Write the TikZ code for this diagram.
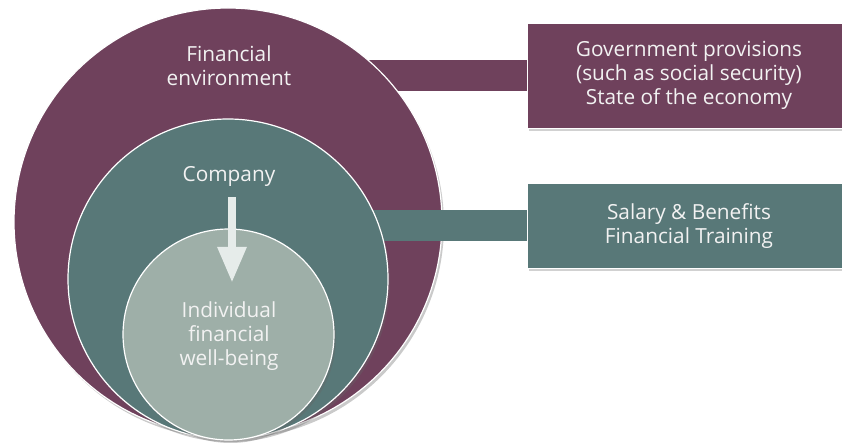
\documentclass[tikz,border=0pt]{standalone}
\usepackage{fontspec}
\setmainfont{Open Sans}
\usetikzlibrary{arrows.meta,shadows}
\definecolor{envc}{HTML}{6F415C}
\definecolor{compc}{HTML}{587878}
\definecolor{indc}{HTML}{9EAFA8}
\definecolor{txtc}{HTML}{F2F2F2}
\definecolor{arrc}{HTML}{E6ECEA}
\tikzset{
  ring/.style={circle, draw=white, line width=1.2pt, inner sep=0pt,
    drop shadow={shadow xshift=2pt, shadow yshift=-3pt, opacity=0.35, fill=black!60}},
  infobox/.style={rectangle, draw=white, line width=0.8pt, inner sep=0pt,
    minimum width=320pt, anchor=west, align=center,
    drop shadow={shadow xshift=2pt, shadow yshift=-3pt, opacity=0.3, fill=black!60}},
  lbl/.style={text=txtc, align=center, font=\fontsize{20.8}{24}\selectfont},
  bar/.style={line width=31pt},
}
\begin{document}
\begin{tikzpicture}[x=1pt,y=-1pt]
\useasboundingbox (0,0) rectangle (842,443);
% boxes
\node[infobox, fill=envc, minimum height=105pt] (gov) at (527,75.5) {};
\node[infobox, fill=compc, minimum height=85pt] (sal) at (527,225.5) {};
% purple bar behind outer circle
\coordinate (envc0) at (228,222);
\draw[bar, envc] (gov.west -| envc0) -- (gov.west);
\node[ring, fill=envc, minimum size=428pt] (env) at (228,222) {};
% teal bar over outer circle, behind middle circle
\coordinate (compc0) at (228,279);
\draw[bar, compc] (sal.west -| compc0) -- (sal.west);
\node[ring, fill=compc, minimum size=320pt] (comp) at (228,279) {};
\node[ring, fill=indc, minimum size=211pt] (ind) at (228.5,334.5) {};
% arrow
\coordinate (a1) at (232,197);
\coordinate (a2) at (232,283);
\draw[arrc, line width=8.5pt, -{Triangle[width=27pt,length=36pt]}] (a1) -- (a2);
% labels
\node[lbl] (envt) at (229,66) {Financial\\environment};
\node[lbl] (compt) at (229,176) {Company};
\node[lbl] (indt) at (229,336) {Individual\\financial\\well-being};
\node[lbl] (govt) at (689,75) {Government provisions\\(such as social security)\\State of the economy};
\node[lbl] (salt) at (689,226) {Salary \& Benefits\\Financial Training};
\end{tikzpicture}
\end{document}
